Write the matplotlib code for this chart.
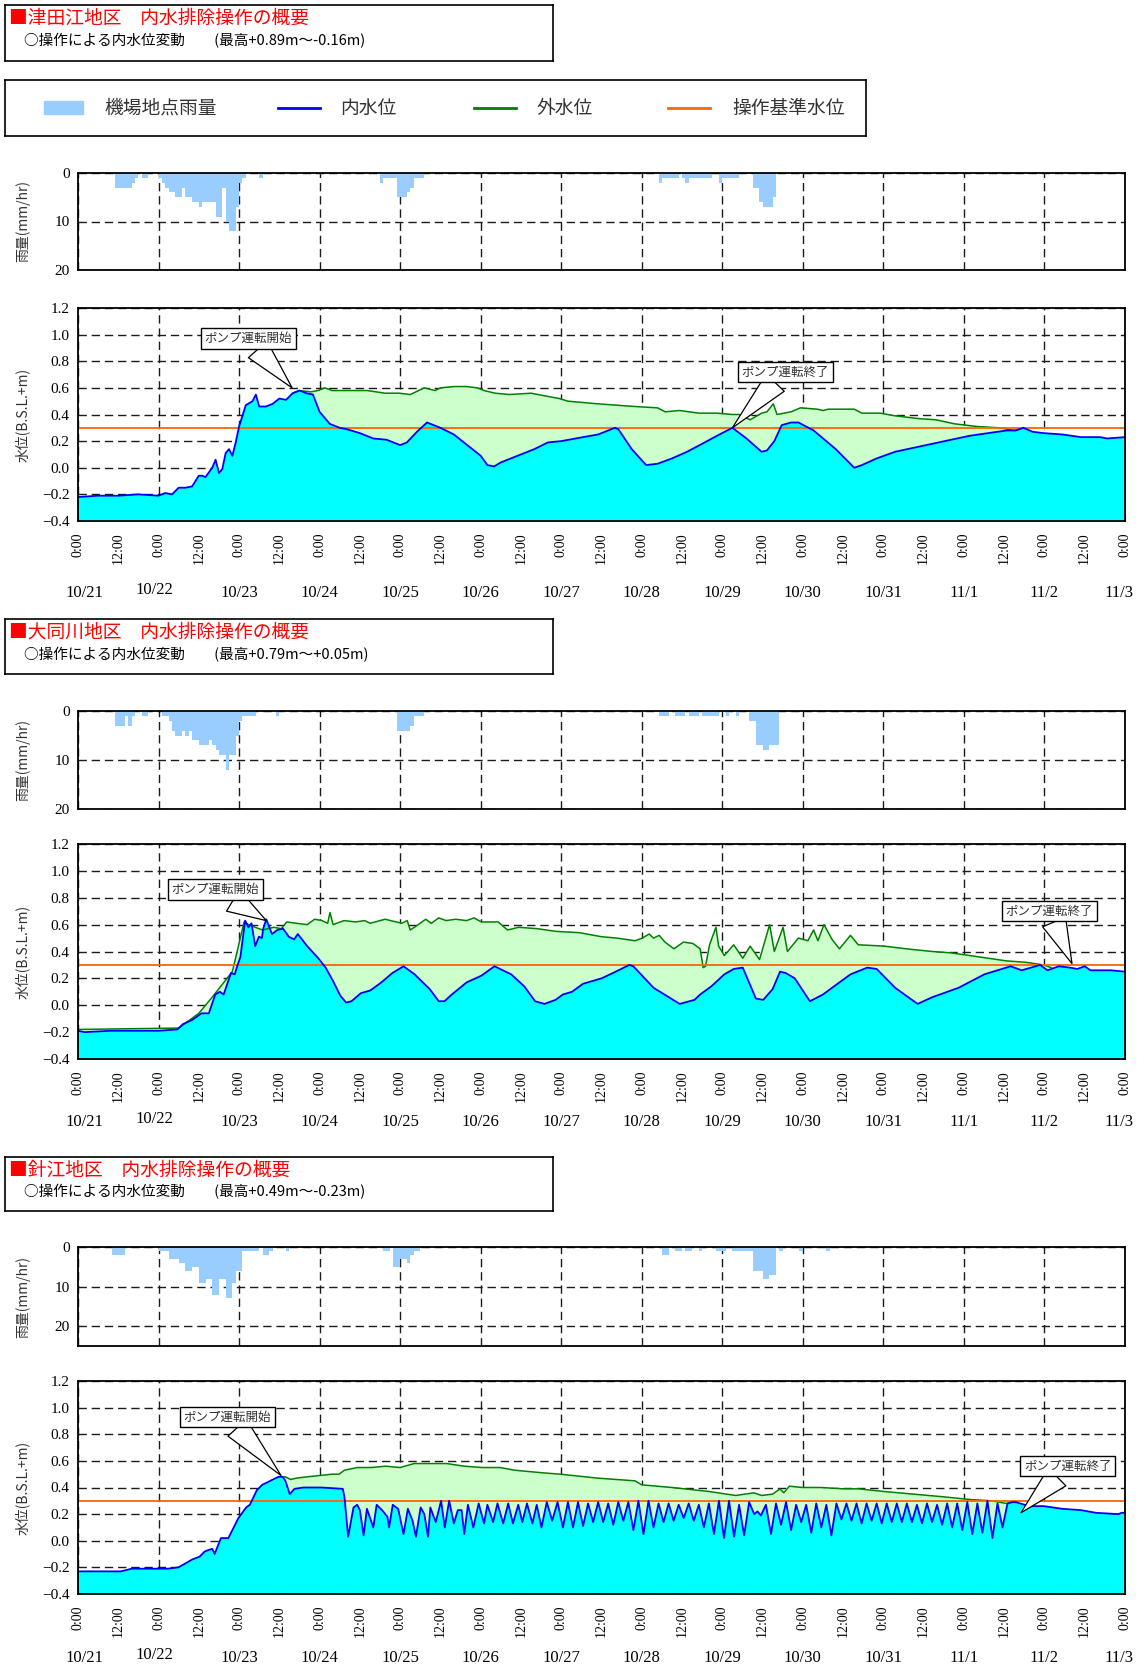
import numpy as np
import matplotlib
matplotlib.use('Agg')
import matplotlib.pyplot as plt
from matplotlib.patches import Rectangle

plt.rcParams['font.family'] = ['Noto Sans CJK JP', 'DejaVu Sans']
NUM_FONT = 'Liberation Serif'

# ---- data (x = hours from 10/21 0:00) ----
dates = ['10/21', '10/22', '10/23', '10/24', '10/25', '10/26', '10/27',
         '10/28', '10/29', '10/30', '10/31', '11/1', '11/2', '11/3']

titles = ['■津田江地区　内水排除操作の概要',
          '■大同川地区　内水排除操作の概要',
          '■針江地区　内水排除操作の概要']
subtitles = ['○操作による内水位変動　　(最高+0.89m～-0.16m)',
             '○操作による内水位変動　　(最高+0.79m～+0.05m)',
             '○操作による内水位変動　　(最高+0.49m～-0.23m)']

# rain (mm/hr)
r1_h = [11, 12, 13, 14, 15, 16, 17, 19, 20,
        24, 25, 26, 27, 28, 29, 30, 31, 32, 33, 34, 35, 36, 37, 38, 39, 40, 41, 42, 43, 44, 45, 46, 47, 48, 49, 54,
        90, 91, 92, 93, 94, 95, 96, 97, 98, 99, 100, 101, 102,
        173, 174, 175, 176, 177, 178, 180, 181, 182, 183, 184, 185, 186, 187, 188, 191, 192, 193, 194, 195, 196,
        201, 202, 203, 204, 205, 206, 207]
r1_mm = [3, 3, 3, 3, 3, 2, 1, 1, 1,
         1, 2, 3, 4, 4, 5, 5, 3, 5, 5, 6, 6, 7, 6, 6, 6, 6, 9, 9, 3, 10, 12, 12, 7, 2, 1, 1,
         2, 1, 1, 1, 1, 5, 5, 5, 4, 3, 1, 1, 1,
         2, 1, 1, 1, 1, 1, 1, 2, 1, 1, 1, 1, 1, 1, 1, 2, 1, 1, 1, 1, 1,
         3, 3, 6, 7, 7, 7, 5]

r2_h = [11, 12, 13, 14, 15, 16, 19, 20,
        25, 26, 27, 28, 29, 30, 31, 32, 33, 34, 35, 36, 37, 38, 39, 40, 41, 42, 43, 44, 45, 46, 47, 48, 49, 50, 51, 52, 59,
        95, 96, 97, 98, 99, 100, 101, 102,
        173, 174, 175, 178, 179, 180, 182, 183, 184, 186, 187, 188, 189, 190, 193, 196,
        200, 201, 202, 203, 204, 205, 206, 207, 208]
r2_mm = [3, 3, 3, 1, 3, 1, 1, 1,
         1, 1, 2, 4, 5, 5, 4, 5, 4, 6, 6, 7, 7, 7, 6, 7, 8, 9, 9, 12, 9, 9, 5, 2, 1, 1, 1, 1, 1,
         4, 4, 4, 4, 3, 1, 1, 1,
         1, 1, 1, 1, 1, 1, 1, 1, 1, 1, 1, 1, 1, 1, 1, 1,
         2, 2, 7, 7, 8, 8, 7, 7, 7]

r3_h = [10, 11, 12, 13,
        24, 25, 26, 27, 28, 29, 30, 31, 32, 33, 34, 35, 36, 37, 38, 39, 40, 41, 42, 43, 44, 45, 46, 47, 48, 49, 50, 51, 52, 53,
        55, 56, 57, 62,
        91, 92, 94, 95, 96, 97, 98, 99, 100, 101,
        174, 175, 178, 179, 181, 182, 185, 190, 191, 192, 195, 196, 197, 198, 199, 200,
        201, 202, 203, 204, 205, 206, 207, 209, 215, 223]
r3_mm = [2, 2, 2, 2,
         1, 1, 1, 3, 3, 3, 4, 4, 6, 6, 5, 5, 9, 9, 8, 8, 12, 12, 8, 8, 13, 13, 9, 6, 6, 1, 1, 1, 1, 1,
         2, 2, 1, 1,
         1, 1, 5, 5, 3, 3, 4, 2, 1, 1,
         2, 2, 1, 1, 1, 1, 1, 1, 1, 1, 1, 1, 1, 1, 1, 1,
         6, 6, 6, 8, 8, 7, 7, 1, 1, 1]

# inner water level (内水位)
p1_in_h = [0, 6, 12, 18, 24, 26, 28, 30, 32, 34, 36, 37, 38, 40, 41, 42, 43, 44, 45, 46,
           47, 48, 50, 52, 53, 54, 56, 58, 60, 62, 64, 66, 68, 70, 72, 75, 78, 80, 84, 88,
           92, 96, 98, 101, 104, 108, 112, 116, 120, 122, 124, 126, 128, 132, 136, 140, 144, 150.5, 155, 160,
           161, 165, 169.3, 172.7, 177, 181.5, 186, 190.4, 195, 199.2, 203.7, 205.3, 207.5, 209.7, 212.5,
           214.7, 219.2, 225.8, 231.3, 233.6, 238, 243.5, 249, 254.6, 260.1, 265.7, 271.2, 276.8, 279.5, 281.7,
           284.5, 287.8, 293.3, 298.9, 304.5, 306.7, 312]
p1_in_v = [-0.22, -0.21, -0.21, -0.20, -0.21, -0.19, -0.20, -0.15, -0.15, -0.14, -0.06, -0.06, -0.07, 0.0, 0.06,
           -0.04, -0.01, 0.11, 0.14, 0.09, 0.19, 0.31, 0.47, 0.50, 0.55, 0.46, 0.46, 0.48, 0.52, 0.51,
           0.56, 0.58, 0.56, 0.55, 0.42, 0.33, 0.30, 0.29, 0.26, 0.22, 0.21, 0.17, 0.19, 0.27, 0.34,
           0.30, 0.25, 0.17, 0.09, 0.02, 0.01, 0.04, 0.06, 0.10, 0.14, 0.19, 0.20, 0.23, 0.25, 0.30,
           0.29, 0.14, 0.02, 0.03, 0.07, 0.12, 0.18, 0.24, 0.30, 0.22, 0.12, 0.13, 0.20, 0.32, 0.34,
           0.34, 0.28, 0.14, 0.00, 0.02, 0.07, 0.12, 0.15, 0.18, 0.21, 0.24, 0.26, 0.28, 0.28, 0.30,
           0.27, 0.26, 0.25, 0.23, 0.23, 0.22, 0.23]

p2_in_h = [0, 2, 9.7, 16.4, 24, 29.6, 31.3, 34, 36.8, 39, 40.9, 42.3, 43.4, 45.6, 46.7, 47.3, 48.4, 49.8,
           50.8, 51.7, 52.8, 53.9, 54.8, 55.2, 56.1, 57.8, 59.4, 61.1, 62.8, 64.4, 65.5, 68.3, 71.6, 73.8,
           76, 78.2, 79.9, 81.5, 84.3, 87.1, 90.4, 93.7, 97, 100.3, 104.8, 107.5, 109.2, 111.4, 115.8, 120.2,
           124.1, 129.1, 133, 136.2, 139, 142.3, 144.5, 147.2, 150.5, 156, 159.4, 164.3, 165.5, 171.5, 179.3,
           183.7, 185.4, 188.7, 192.6, 195.4, 198.1, 202, 204.2, 207, 209.2, 210.9, 213.6, 218.1, 222, 225.8,
           230.2, 235.2, 238, 243.5, 247.4, 250.2, 254.6, 262.4, 270.1, 277.9, 281.2, 284, 286.7, 288.9, 292.3,
           295.6, 297.8, 300, 301.7, 307.8, 312]
p2_in_v = [-0.19, -0.20, -0.19, -0.19, -0.19, -0.18, -0.14, -0.11, -0.06, -0.06, 0.08, 0.10, 0.08, 0.24, 0.23,
           0.28, 0.36, 0.63, 0.58, 0.61, 0.44, 0.51, 0.50, 0.57, 0.64, 0.53, 0.56, 0.57, 0.51, 0.49,
           0.53, 0.44, 0.35, 0.28, 0.18, 0.07, 0.02, 0.03, 0.09, 0.11, 0.17, 0.24, 0.29, 0.23, 0.12,
           0.03, 0.03, 0.08, 0.17, 0.22, 0.29, 0.23, 0.14, 0.03, 0.01, 0.04, 0.08, 0.10, 0.16, 0.20,
           0.24, 0.30, 0.29, 0.13, 0.01, 0.04, 0.08, 0.14, 0.23, 0.27, 0.28, 0.05, 0.04, 0.12, 0.25,
           0.24, 0.20, 0.03, 0.08, 0.15, 0.23, 0.28, 0.27, 0.13, 0.06, 0.01, 0.06, 0.13, 0.23, 0.29,
           0.26, 0.28, 0.30, 0.26, 0.29, 0.28, 0.27, 0.29, 0.26, 0.26, 0.25]

p3_in_h = [0, 12.8, 16, 21.3, 26.7, 29.9, 32, 34.1, 36.2, 37.8, 40, 40.7, 42.6, 44.8, 47.8, 50.1, 51.2,
           53.3, 54.9, 56.5, 58.1, 59.7, 61, 61.8, 63.1, 64.5, 67.2, 72.5, 78.9, 79.4, 80.5,
           82.1, 83.2, 84, 85.1, 86.1, 86.9, 88, 89, 90.6, 92.2, 92.7, 93.8, 95.4, 97, 98.3, 99.7,
           100.7, 102.1, 103.2, 104.3, 105, 106.6, 108.2, 109.3, 110.6, 112, 113.2, 114.3, 115.1, 116.2,
           117.8, 119.4, 121, 122, 123.7, 125, 126.7, 128.2, 129.6, 131.2, 132.4, 133.8, 135.4, 136.7,
           138.1, 139.7, 141.3, 142.9,
           144.5, 146, 147.5, 149, 150.5, 152, 153.5, 155, 156.5, 158, 159.5, 161, 162.5, 164, 165.5,
           167, 168.5, 170, 171.5, 173, 174.5, 176, 177.5, 179, 180.5, 182, 183.5, 185, 186.5, 188,
           189.5, 191, 192.5, 194, 195.5, 197, 198.5, 200, 201.5, 202.5, 203.5, 205, 206.5, 208, 209.5,
           211, 212.5, 214, 215.5, 217, 218.5, 220, 221.5, 223, 224.5, 226, 227.5, 229, 230.5, 232,
           233.5, 235, 236.5, 238, 239.5, 241, 242.5, 244, 245.5, 247, 248.5, 250, 251.5, 253, 254.5,
           256, 257.5, 259, 260.5, 262, 263.5, 265, 266.5, 268, 269.5, 271, 272.5, 274, 275.5, 277,
           278.4, 279.5, 283.4, 287.8, 293.3, 298.9, 303.3, 310, 311, 312]
p3_in_v = [-0.23, -0.23, -0.21, -0.21, -0.21, -0.20, -0.17, -0.14, -0.12, -0.08, -0.06, -0.10, 0.02, 0.02,
           0.17, 0.25, 0.27, 0.38, 0.42, 0.44, 0.46, 0.48, 0.48, 0.45, 0.35, 0.39, 0.40, 0.40, 0.39, 0.33, 0.03,
           0.25, 0.27, 0.23, 0.04, 0.24, 0.18, 0.10, 0.27, 0.23, 0.18, 0.10, 0.27, 0.24, 0.05, 0.24, 0.15,
           0.03, 0.25, 0.20, 0.03, 0.25, 0.14, 0.30, 0.10, 0.30, 0.13, 0.23, 0.23, 0.05, 0.27,
           0.10, 0.28, 0.13, 0.27, 0.14, 0.28, 0.13, 0.28, 0.13, 0.27, 0.14, 0.28, 0.13, 0.27,
           0.10, 0.29, 0.15, 0.29,
           0.10, 0.29, 0.10, 0.29, 0.11, 0.28, 0.14, 0.29, 0.14, 0.28, 0.12, 0.29, 0.15, 0.29, 0.08,
           0.30, 0.05, 0.30, 0.10, 0.28, 0.14, 0.28, 0.15, 0.27, 0.17, 0.28, 0.15, 0.27, 0.10, 0.28,
           0.05, 0.30, 0.02, 0.30, 0.03, 0.27, 0.04, 0.29, 0.20, 0.22, 0.19, 0.27, 0.05, 0.28, 0.12,
           0.29, 0.08, 0.27, 0.14, 0.27, 0.06, 0.28, 0.10, 0.27, 0.04, 0.28, 0.16, 0.28, 0.15, 0.28,
           0.13, 0.28, 0.15, 0.28, 0.13, 0.28, 0.14, 0.28, 0.14, 0.28, 0.14, 0.27, 0.13, 0.28, 0.14,
           0.27, 0.12, 0.28, 0.10, 0.28, 0.08, 0.29, 0.05, 0.28, 0.06, 0.30, 0.02, 0.28, 0.10, 0.28,
           0.29, 0.29, 0.26, 0.26, 0.24, 0.23, 0.21, 0.20, 0.21, 0.21]

# outer water level (外水位)
p1_out_h = [64, 66, 69.4, 71.5, 73.6, 75.7, 81, 86.2, 91.5, 95.7, 99, 103.2, 106.4, 108, 112,
            115.8, 119, 121, 124.3, 128.6, 135, 139.1, 143.4, 146, 155, 166, 172.7, 175, 179.3, 185,
            190.4, 195, 197, 200.3, 203.7, 205.3, 207.2, 208.3, 212.5, 215.3, 220.3, 222, 223.6, 231.3, 233.6,
            239.1, 243.5, 250.2, 255.7, 261.2, 267.9, 274.5, 279, 281.7]
p1_out_v = [0.56, 0.58, 0.57, 0.58, 0.60, 0.58, 0.58, 0.58, 0.56, 0.56, 0.55, 0.60, 0.58, 0.60, 0.61,
            0.61, 0.60, 0.58, 0.56, 0.55, 0.56, 0.54, 0.52, 0.50, 0.48, 0.46, 0.45, 0.42, 0.43, 0.41,
            0.41, 0.40, 0.40, 0.36, 0.41, 0.42, 0.48, 0.40, 0.42, 0.45, 0.44, 0.43, 0.44, 0.44, 0.41,
            0.41, 0.39, 0.37, 0.36, 0.33, 0.31, 0.30, 0.28, 0.30]

p2_out_h = [0, 30, 36, 40, 46, 49.5, 50.8, 52.8, 55, 58.3, 60.6, 62.2, 65, 68.3, 70.5,
            72.7, 74.4, 75.1, 76, 79.3, 82.7, 85.4, 87.1, 91.5, 96.5, 98.1, 99, 101.4, 103.6, 105.3,
            107.5, 109.7, 112.5, 115.8, 118, 120.2, 125.2, 128, 131.3, 136.8, 142.3, 149.4, 156, 160.5, 166,
            168.2, 170.2, 171.5, 173.2, 174.9, 177.6, 180.4, 183.2, 185.4, 186.3, 187, 188.2, 190.1, 190.9, 192.6,
            195.4, 198.1, 200.3, 201.4, 203.1, 206.1, 207.5, 210.1, 211.4, 214.7, 217.5, 219.2, 220.5, 222.3, 224.7,
            226.9, 230.2, 232.5, 240.2, 246.8, 254.6, 260.1, 265.7, 271.2, 276.7, 282.3, 287.8, 290]
p2_out_v = [-0.18, -0.17, -0.06, 0.06, 0.25, 0.62, 0.60, 0.58, 0.56, 0.58, 0.57, 0.62, 0.61, 0.60, 0.64,
            0.63, 0.61, 0.69, 0.60, 0.63, 0.62, 0.63, 0.61, 0.64, 0.61, 0.63, 0.56, 0.60, 0.64, 0.61,
            0.65, 0.63, 0.64, 0.63, 0.65, 0.62, 0.62, 0.56, 0.58, 0.57, 0.55, 0.54, 0.51, 0.50, 0.48,
            0.50, 0.53, 0.50, 0.52, 0.47, 0.42, 0.47, 0.46, 0.42, 0.28, 0.29, 0.45, 0.58, 0.44, 0.37,
            0.45, 0.35, 0.44, 0.40, 0.34, 0.60, 0.40, 0.58, 0.40, 0.50, 0.48, 0.56, 0.48, 0.60, 0.49,
            0.42, 0.52, 0.45, 0.44, 0.42, 0.40, 0.39, 0.37, 0.35, 0.33, 0.32, 0.30, 0.28]

p3_out_h = [61, 61.8, 63.4, 65, 68.2, 72, 75.7, 77.8, 79.4, 83.2, 87.4, 91.7, 96, 100.2, 104.5,
            109.8, 115.1, 120.5, 125.8, 130.1, 134.3, 138.6, 143.7, 155, 166, 168, 177, 188, 196, 201.4,
            203.7, 207, 209.2, 210.3, 212, 215.8, 221.4, 228, 232.5, 240.2, 249, 257.9, 265.7, 272.3, 276.7, 278.4]
p3_out_v = [0.48, 0.48, 0.46, 0.47, 0.48, 0.49, 0.50, 0.50, 0.53, 0.55, 0.55, 0.56, 0.55, 0.58, 0.58,
            0.58, 0.56, 0.55, 0.55, 0.53, 0.52, 0.51, 0.50, 0.47, 0.45, 0.42, 0.40, 0.37, 0.34, 0.36,
            0.34, 0.35, 0.39, 0.36, 0.41, 0.40, 0.40, 0.39, 0.39, 0.37, 0.35, 0.33, 0.31, 0.30, 0.28, 0.29]

base_level = 0.3   # 操作基準水位

# callouts: (tip hour, tip level, box hour, box level)
p1_calls = [('ポンプ運転開始', 63.8, 0.60, 50.7, 0.97), ('ポンプ運転終了', 195, 0.30, 210.8, 0.72)]
p2_calls = [('ポンプ運転開始', 56.1, 0.63, 40.9, 0.86), ('ポンプ運転終了', 296.2, 0.31, 289.5, 0.70)]
p3_calls = [('ポンプ運転開始', 60.5, 0.49, 44.5, 0.93), ('ポンプ運転終了', 281, 0.21, 295, 0.56)]

# ---- layout (pixels) ----
W, H = 1144, 1668
fig = plt.figure(figsize=(W / 100, H / 100), dpi=100)


def box(x0, y0, x1, y1):
    return [x0 / W, 1 - y1 / H, (x1 - x0) / W, (y1 - y0) / H]


DASH = (0, (6, 3.5))
GRID_C = '#1a1a1a'


def title_box(rect, title, sub):
    ax = fig.add_axes(box(*rect))
    ax.set_xticks([]); ax.set_yticks([])
    for s in ax.spines.values():
        s.set_linewidth(1.2)
    ax.text(0.008, 0.76, title, color='#ff0000', fontsize=13.5, va='center', transform=ax.transAxes)
    ax.text(0.035, 0.36, sub, color='black', fontsize=10.5, va='center', transform=ax.transAxes)


def rain_panel(y0, y1, hours, mm, ymax, yticks):
    ax = fig.add_axes(box(78, y0, 1125, y1))
    ax.bar(hours, mm, width=1, align='edge', color='#99ccff', zorder=2)
    ax.set_xlim(0, 312)
    ax.set_ylim(ymax, 0)
    ax.set_xticks(np.arange(0, 313, 24))
    ax.set_yticks(yticks)
    ax.set_yticklabels([str(t) for t in yticks], fontsize=11, family=NUM_FONT)
    ax.tick_params(length=0, labelbottom=False, pad=6)
    ax.grid(True, ls=DASH, color=GRID_C, lw=1, zorder=0)
    ax.set_axisbelow(True)
    for s in ax.spines.values():
        s.set_linewidth(1.3)
    ax.set_ylabel('雨量(mm/hr)', fontsize=10, color='#333333')
    ax.yaxis.set_label_coords(-0.046, 0.5)
    return ax


def level_panel(y0, y1, in_h, in_v, out_h, out_v, calls, date_off):
    ax = fig.add_axes(box(78, y0, 1125, y1))
    ax.fill_between(out_h, -0.4, out_v, color='#ccffcc', lw=0, zorder=1)
    ax.plot(out_h, out_v, color='#008000', lw=1.1, zorder=2.5)
    ax.fill_between(in_h, -0.4, in_v, color='#00ffff', lw=0, zorder=2)
    ax.axhline(base_level, color='#ff6600', lw=1.3, zorder=3)
    ax.plot(in_h, in_v, color='#0000ff', lw=1.3, zorder=4)
    ax.set_xlim(0, 312)
    ax.set_ylim(-0.4, 1.2)
    yt = np.round(np.arange(-0.4, 1.21, 0.2), 1)
    ax.set_yticks(yt)
    ax.set_yticklabels([f'{v:.1f}'.replace('-', '\u2212') for v in yt], fontsize=11, family=NUM_FONT)
    days = np.arange(0, 313, 24)
    ax.set_xticks(days)
    ax.set_xticklabels(['0:00'] * len(days), fontsize=10, family=NUM_FONT, rotation=90)
    ax.set_xticks(days[:-1] + 12, minor=True)
    ax.set_xticklabels(['12:00'] * (len(days) - 1), minor=True, fontsize=10, family=NUM_FONT, rotation=90)
    ax.tick_params(axis='x', which='both', direction='in', length=5, pad=8)
    ax.tick_params(axis='y', length=0, pad=6)
    ax.grid(True, which='major', ls=DASH, color=GRID_C, lw=1, zorder=0)
    ax.set_axisbelow(True)
    for s in ax.spines.values():
        s.set_linewidth(1.3)
        s.set_zorder(6)
    ax.set_ylabel('水位(B.S.L.+m)', fontsize=10, color='#333333')
    ax.yaxis.set_label_coords(-0.046, 0.5)
    nudge = {0: (6, 0), 1: (-4, 3), len(dates) - 1: (-6, 0)}
    for i, d in enumerate(dates):
        dx, dy = nudge.get(i, (0, 0))
        ax.annotate(d, xy=(days[i], 0), xycoords=('data', 'axes fraction'),
                    xytext=(dx, -date_off + dy), textcoords='offset pixels',
                    ha='center', va='center', fontsize=12, family=NUM_FONT)
    for text, tx, ty, bx, by in calls:
        ax.annotate(text, xy=(tx, ty), xytext=(bx, by), ha='center', va='center',
                    fontsize=9, color='#333333', zorder=8,
                    bbox=dict(boxstyle='square,pad=0.3', fc='white', ec='black', lw=1),
                    arrowprops=dict(arrowstyle='wedge,tail_width=2.0', fc='white', ec='black',
                                    lw=0.9, shrinkA=0, shrinkB=0))
    return ax


# legend box
lg = fig.add_axes(box(5, 80, 866, 136))
lg.set_xlim(0, 861); lg.set_ylim(0, 56)
lg.set_xticks([]); lg.set_yticks([])
for s in lg.spines.values():
    s.set_linewidth(1.2)
lg.add_patch(Rectangle((39, 22), 39, 13, color='#99ccff'))
lg.plot([273, 315], [28, 28], color='#0000ff', lw=2)
lg.plot([469, 511], [28, 28], color='#008000', lw=2)
lg.plot([663, 705], [28, 28], color='#ff6600', lw=2)
for x, t in [(99, '機場地点雨量'), (335, '内水位'), (531, '外水位'), (727, '操作基準水位')]:
    lg.text(x, 28, t, fontsize=13.5, va='center', color='#333333')

panels = [
    dict(title=(5, 5, 553, 61), rain=(173, 270), lev=(308, 521), off=72,
         rh=r1_h, rm=r1_mm, rmax=20, rt=[0, 10, 20],
         ih=p1_in_h, iv=p1_in_v, oh=p1_out_h, ov=p1_out_v, calls=p1_calls),
    dict(title=(5, 619, 553, 674), rain=(711, 809), lev=(844, 1059), off=63,
         rh=r2_h, rm=r2_mm, rmax=20, rt=[0, 10, 20],
         ih=p2_in_h, iv=p2_in_v, oh=p2_out_h, ov=p2_out_v, calls=p2_calls),
    dict(title=(5, 1157, 553, 1211), rain=(1247, 1346), lev=(1381, 1594), off=64,
         rh=r3_h, rm=r3_mm, rmax=25, rt=[0, 10, 20],
         ih=p3_in_h, iv=p3_in_v, oh=p3_out_h, ov=p3_out_v, calls=p3_calls),
]

for i, p in enumerate(panels):
    title_box(p['title'], titles[i], subtitles[i])
    rain_panel(p['rain'][0], p['rain'][1], p['rh'], p['rm'], p['rmax'], p['rt'])
    level_panel(p['lev'][0], p['lev'][1], p['ih'], p['iv'], p['oh'], p['ov'], p['calls'], p['off'])

fig.savefig('out.png', dpi=100)
